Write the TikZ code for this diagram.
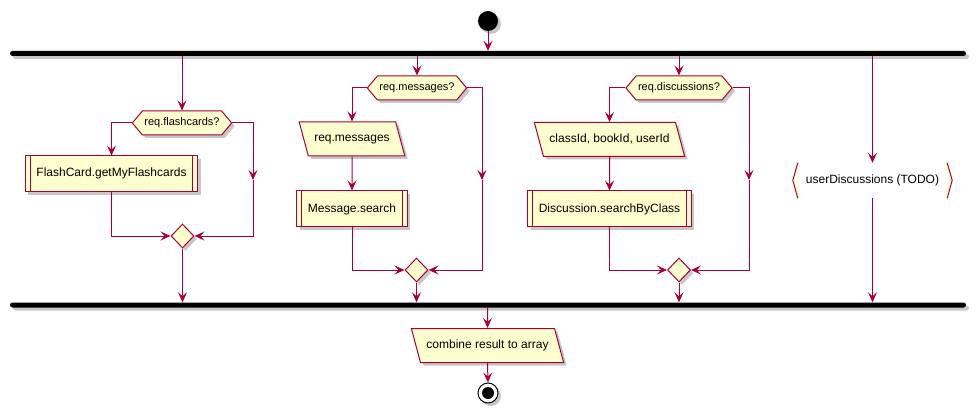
\documentclass[tikz,border=0pt]{standalone}
\usepackage{fontspec}
\setmainfont{Liberation Sans}
\usetikzlibrary{arrows.meta, positioning, calc, shapes.geometric, shapes.symbols, shadows}
\definecolor{Crimson}{HTML}{A80036}
\definecolor{Cream}{HTML}{FEFECE}

\begin{document}
\begin{tikzpicture}[
        x=1pt, y=-1pt,
        font=\fontsize{12}{14}\selectfont,
        castshadow/.style={drop shadow={shadow xshift=3pt, shadow yshift=-3pt, opacity=0.22, fill=black}},
        bar/.style={fill=black, minimum width=956pt, minimum height=5pt, inner sep=0pt, rounded corners=2.5pt, castshadow},
        test/.style={signal, signal to=east and west, signal pointer angle=100, draw=Crimson, fill=Cream, line width=1pt, minimum height=24pt, inner xsep=2pt, inner ysep=0pt, font=\fontsize{11}{13}\selectfont, castshadow},
        action/.style={rectangle, draw=Crimson, fill=Cream, line width=1pt, minimum height=36pt, inner xsep=11pt, text height=9pt, text depth=3pt, castshadow,
          path picture={\draw[Crimson, line width=1pt]
            ([xshift=5pt]path picture bounding box.north west) -- ([xshift=5pt]path picture bounding box.south west)
            ([xshift=-5pt]path picture bounding box.north east) -- ([xshift=-5pt]path picture bounding box.south east);}},
        input/.style={trapezium, trapezium left angle=105, trapezium right angle=75, draw=Crimson, fill=Cream, line width=1pt, inner xsep=6pt, inner ysep=11pt, text height=9pt, text depth=3pt, castshadow},
        merge/.style={diamond, draw=Crimson, fill=Cream, line width=1pt, minimum width=23pt, minimum height=24pt, inner sep=0pt, castshadow},
        arr/.style={-{Stealth[length=10pt, width=9pt, inset=4pt]}, line width=1pt, draw=Crimson, color=Crimson}
      ]
        \useasboundingbox (0,0) rectangle (977,414);

        \node[circle, fill=black, minimum size=20pt, inner sep=0pt, castshadow] (start) at (488,21) {};
        \node[bar] (fork) at (488,53.5) {};
        \node[bar] (join) at (488,305) {};

        \node[test] (hex1) at (182,123) {req.flashcards?};
        \node[action] (fc) at (111.5,174) {FlashCard.getMyFlashcards};
        \node[merge] (merge1) at (182.5,236) {};
        \coordinate (skip1) at (253,180);

        \node[test] (hex2) at (417,88) {req.messages?};
        \node[input] (msgs) at (352,139) {req.messages};
        \node[action] (search) at (352,209) {Message.search};
        \node[merge] (merge2) at (416.5,270) {};
        \coordinate (skip2) at (482,180);

        \node[test] (hex3) at (679,88) {req.discussions?};
        \node[input] (ids) at (609.5,139.5) {classId, bookId, userId};
        \node[action] (discsearch) at (609.5,209) {Discussion.searchByClass};
        \node[merge] (merge3) at (679,270) {};
        \coordinate (skip3) at (749,180);

        \node[minimum width=149pt, minimum height=35pt, inner sep=0pt] (todo) at (872.5,180.5) {userDiscussions (TODO)};
        \fill[Cream] (todo.north west) -- ++(-5,17.5) -- ++(5,17.5) -- ++(3,0) -- ++(-5,-17.5) -- ++(5,-17.5) -- cycle;
        \fill[Cream] (todo.north east) -- ++(5,17.5) -- ++(-5,17.5) -- ++(-3,0) -- ++(5,-17.5) -- ++(-5,-17.5) -- cycle;
        \draw[Crimson, line width=1pt] (todo.north west) -- ++(-5,17.5) -- (todo.south west);
        \draw[Crimson, line width=1pt] (todo.north east) -- ++(5,17.5) -- (todo.south east);

        \node[input] (combine) at (487.5,345.5) {combine result to array};
        \node[circle, draw=black, fill=white, line width=1pt, minimum size=20pt, inner sep=0pt, castshadow,
          path picture={\fill[black] (path picture bounding box.center) circle (6pt);}] (stop) at (488,393) {};

        \draw[arr] (start.south) -- (start |- fork.north);

        \draw[arr] (hex1 |- fork.south) -- (hex1.north);
        \draw[arr] (hex1.west) -| (fc.north);
        \draw[arr] (hex1.east) -| (skip1);
        \draw[arr] (skip1) |- (merge1.east);
        \draw[arr] (fc.south) |- (merge1.west);
        \draw[arr] (merge1.south) -- (merge1 |- join.north);

        \draw[arr] (hex2 |- fork.south) -- (hex2.north);
        \draw[arr] (hex2.west) -| (msgs.north);
        \draw[arr] (msgs.south) -- (search.north);
        \draw[arr] (hex2.east) -| (skip2);
        \draw[arr] (skip2) |- (merge2.east);
        \draw[arr] (search.south) |- (merge2.west);
        \draw[arr] (merge2.south) -- (merge2 |- join.north);

        \draw[arr] (hex3 |- fork.south) -- (hex3.north);
        \draw[arr] (hex3.west) -| (ids.north);
        \draw[arr] (ids.south) -- (discsearch.north);
        \draw[arr] (hex3.east) -| (skip3);
        \draw[arr] (skip3) |- (merge3.east);
        \draw[arr] (discsearch.south) |- (merge3.west);
        \draw[arr] (merge3.south) -- (merge3 |- join.north);

        \draw[arr] (todo |- fork.south) -- (todo.north);
        \draw[arr] (todo.south) -- (todo |- join.north);

        \draw[arr] (combine |- join.south) -- (combine.north);
        \draw[arr] (combine.south) -- (stop.north);
      \end{tikzpicture}
\end{document}
